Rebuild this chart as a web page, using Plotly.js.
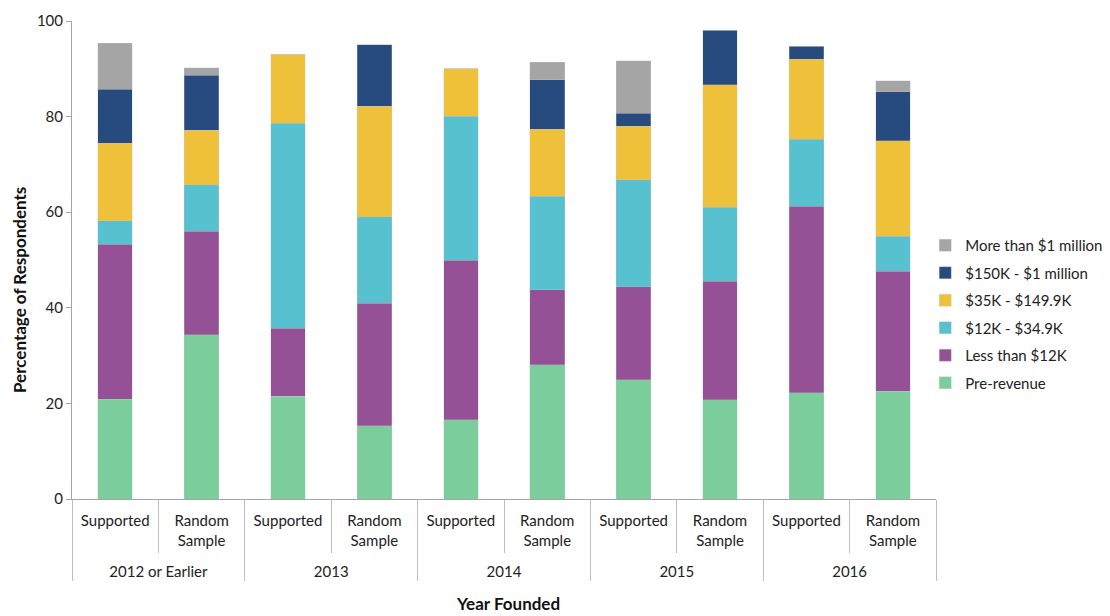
<!DOCTYPE html>
<html>
<head>
<meta charset="utf-8">
<script src="https://cdn.plot.ly/plotly-3.0.1.min.js"></script>
<style>html,body{margin:0;padding:0;background:#fff;}#chart{width:1110px;height:616px;}</style>
</head>
<body>
<div id="chart"></div>
<script>
const years = ["2012 or Earlier","2012 or Earlier","2013","2013","2014","2014","2015","2015","2016","2016"];
const samples = ["Supported","Random<br>Sample<br>&nbsp;","Supported","Random<br>Sample<br>&nbsp;","Supported","Random<br>Sample<br>&nbsp;","Supported","Random<br>Sample<br>&nbsp;","Supported","Random<br>Sample<br>&nbsp;"];

const preRevenue   = [20.9, 34.4, 21.5, 15.3, 16.6, 28.1, 24.9, 20.8, 22.2, 22.5];
const lessThan12K  = [32.4, 21.6, 14.2, 25.7, 33.3, 15.7, 19.5, 24.8, 39.0, 25.1];
const k12to35      = [4.9, 9.7, 42.9, 18.0, 30.2, 19.5, 22.4, 15.4, 14.1, 7.4];
const k35to150     = [16.2, 11.4, 14.4, 23.2, 9.9, 14.1, 11.2, 25.7, 16.7, 20.0];
const k150to1M     = [11.3, 11.5, 0, 12.8, 0, 10.3, 2.7, 11.4, 2.7, 10.2];
const moreThan1M   = [9.6, 1.6, 0, 0, 0, 3.7, 11.0, 0, 0, 2.3];

const seriesNames = ["Pre-revenue","Less than $12K","$12K - $34.9K","$35K - $149.9K","$150K - $1 million","More than $1 million"];
const seriesValues = [preRevenue, lessThan12K, k12to35, k35to150, k150to1M, moreThan1M];
const seriesColors = ["#7CCD9C","#955196","#58C1CF","#EFC03A","#274B7F","#A5A5A5"];

const xTitle = "Year Founded";
const yTitle = "Percentage of Respondents";

const traces = seriesNames.map((name, i) => ({
  type: "bar",
  name: name,
  legendgroup: "g" + i,
  legendrank: 1000 - i,
  x: [years, samples],
  y: seriesValues[i],
  marker: {color: seriesColors[i], line: {color: "rgba(200,200,200,0.6)", width: 0.5}},
  hoverinfo: "y+name"
}));

const font = "Lato, 'Open Sans', sans-serif";

const layout = {
  width: 1110, height: 616,
  margin: {l: 72, r: 0, t: 21, b: 117},
  barmode: "stack",
  bargap: 0.6,
  paper_bgcolor: "#fff",
  plot_bgcolor: "#fff",
  font: {family: font, size: 15, color: "#222"},
  showlegend: true,
  legend: {
    x: 0.822, y: 0.387, xanchor: "left", yanchor: "middle",
    traceorder: "grouped",
    font: {size: 15, color: "#222"},
    itemwidth: 30, tracegroupgap: 5,
    bgcolor: "rgba(0,0,0,0)"
  },
  xaxis: {
    type: "multicategory",
    domain: [0, 0.8324],
    showline: true, linecolor: "#A6A6A6", linewidth: 1,
    ticks: "outside", tickson: "boundaries", ticklen: 53, tickcolor: "#BFBFBF",
    ticklabelstandoff: 8,
    showdividers: true, dividercolor: "#BFBFBF", dividerwidth: 1,
    tickfont: {size: 15, color: "#222"},
    showgrid: false
  },
  yaxis: {
    range: [0, 100],
    tickvals: [0, 20, 40, 60, 80, 100],
    showline: true, linecolor: "#A6A6A6", linewidth: 1,
    ticks: "outside", ticklen: 5, tickcolor: "#A6A6A6",
    showgrid: false, zeroline: false,
    tickfont: {size: 15, color: "#222"}
  },
  annotations: [
    {text: yTitle, xref: "paper", yref: "paper", x: (19 - 72) / 1038, y: (499 - 290) / 478,
     xanchor: "center", yanchor: "middle", textangle: -90, showarrow: false,
     font: {size: 17, color: "#111", weight: "bold", family: font}},
    {text: xTitle, xref: "paper", yref: "paper", x: (508 - 72) / 1038, y: (499 - 603) / 478,
     xanchor: "center", yanchor: "middle", showarrow: false,
     font: {size: 17, color: "#111", weight: "bold", family: font}}
  ]
};

Plotly.newPlot("chart", traces, layout, {displayModeBar: false, staticPlot: true});
</script>
</body>
</html>
